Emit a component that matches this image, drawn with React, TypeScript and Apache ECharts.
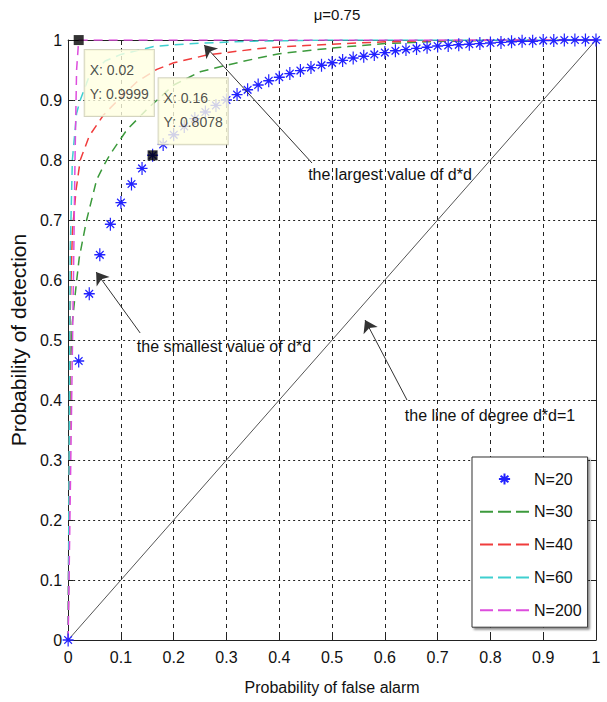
import React, { useEffect, useRef } from "react";
import * as echarts from "echarts";

// ---------- data ----------
const titleText = "μ=0.75";
const xName = "Probability of false alarm";
const yName = "Probability of detection";
const legendNames = ["N=20", "N=30", "N=40", "N=60", "N=200"];

const pfa20 = [0, 0.02, 0.04, 0.06, 0.08, 0.1, 0.12, 0.14, 0.16, 0.18, 0.2, 0.22, 0.24, 0.26, 0.28, 0.3, 0.32, 0.34, 0.36, 0.38, 0.4, 0.42, 0.44, 0.46, 0.48, 0.5, 0.52, 0.54, 0.56, 0.58, 0.6, 0.62, 0.64, 0.66, 0.68, 0.7, 0.72, 0.74, 0.76, 0.78, 0.8, 0.82, 0.84, 0.86, 0.88, 0.9, 0.92, 0.94, 0.96, 0.98, 1.0];
const pd20 = [0, 0.465, 0.577, 0.642, 0.693, 0.729, 0.76, 0.786, 0.8078, 0.826, 0.842, 0.856, 0.869, 0.88, 0.891, 0.9, 0.909, 0.917, 0.925, 0.932, 0.938, 0.944, 0.949, 0.954, 0.958, 0.962, 0.966, 0.97, 0.973, 0.976, 0.979, 0.982, 0.984, 0.986, 0.988, 0.99, 0.991, 0.992, 0.993, 0.994, 0.995, 0.996, 0.997, 0.998, 0.998, 0.999, 0.999, 1, 1, 1, 1];

const pfa30 = [0, 0.004, 0.008, 0.015, 0.021, 0.035, 0.054, 0.067, 0.08, 0.111, 0.15, 0.2, 0.25, 0.3, 0.36, 0.4, 0.46, 0.53, 0.6, 0.68, 0.8, 1.0];
const pd30 = [0, 0.45, 0.53, 0.59, 0.637, 0.7, 0.767, 0.79, 0.81, 0.85, 0.885, 0.925, 0.947, 0.958, 0.97, 0.977, 0.983, 0.989, 0.994, 0.997, 0.9995, 1];

const pfa40 = [0, 0.004, 0.008, 0.015, 0.023, 0.04, 0.067, 0.1, 0.13, 0.168, 0.2, 0.263, 0.3, 0.364, 0.45, 0.5, 0.6, 0.7, 0.8, 1.0];
const pd40 = [0, 0.55, 0.68, 0.75, 0.8, 0.84, 0.875, 0.905, 0.93, 0.951, 0.962, 0.975, 0.979, 0.986, 0.991, 0.993, 0.997, 0.999, 1, 1];

const pfa60 = [0, 0.004, 0.008, 0.016, 0.023, 0.04, 0.07, 0.1, 0.162, 0.2, 0.256, 0.35, 0.5, 1.0];
const pd60 = [0, 0.65, 0.8, 0.878, 0.9, 0.94, 0.965, 0.976, 0.989, 0.992, 0.995, 0.998, 1, 1];

const pfa200 = [0, 0.005, 0.01, 0.013, 0.016, 0.02, 1.0];
const pd200 = [0, 0.3, 0.6, 0.8, 0.95, 0.9999, 1];

const refX = [0, 1];
const refY = [0, 1];

const tipX = [0.02, 0.16];
const tipY = [0.9999, 0.8078];

const annoTexts = ["the largest value of d*d", "the smallest value of d*d", "the line of degree d*d=1"];
// arrows: [tailX, tailY, tipX, tipY] in data units
const arrow1 = [0.462, 0.795, 0.2576, 0.9917];
const arrow2 = [0.1364, 0.5117, 0.053, 0.6133];
const arrow3 = [0.642, 0.4, 0.5625, 0.5333];

const colors = ["#2222ff", "#3c9a3c", "#f03c3c", "#3fcfcf", "#dd4ddd"];

const FONT = "'Liberation Sans', Arial, sans-serif";
const STAR = "path://M5,0L5,12M0,6L10,6M1.5,2.5L8.5,9.5M1.5,9.5L8.5,2.5";
const DASH_ICON =
  "path://M0,0h0.01v0.01h-0.01z M0,6h13v2h-13z M18,6h13v2h-13z M36,6h13v2h-13z M48.99,13.99h0.01v0.01h-0.01z";

function zip(xs: number[], ys: number[]) {
  return xs.map((x, i) => [x, ys[i]]);
}

export default function App() {
  const ref = useRef<HTMLDivElement>(null);
  useEffect(() => {
    if (!ref.current) return;
    const chart = echarts.init(ref.current, undefined, { renderer: "svg" });
    const dashed = (name: string, xs: number[], ys: number[], color: string) => ({
      type: "line",
      name,
      data: zip(xs, ys),
      symbol: "none",
      showSymbol: false,
      lineStyle: { color, width: 1.5, type: [9, 6] },
      itemStyle: { color },
      z: 3,
    });
    const axisCommon = {
      type: "value",
      min: 0,
      max: 1,
      interval: 0.1,
    };
    const option: any = {
      animation: false,
      backgroundColor: "#ffffff",
      textStyle: { fontFamily: FONT },
      title: {
        text: titleText,
        left: 332,
        top: 2,
        textAlign: "center",
        textStyle: { fontSize: 15, fontWeight: "normal", color: "#111", fontFamily: FONT },
      },
      grid: { left: 68, top: 40, width: 528, height: 600 },
      xAxis: [
        {
          ...axisCommon,
          position: "bottom",
          axisLine: { show: true, onZero: false, lineStyle: { color: "#222", width: 1 } },
          axisTick: { show: true, inside: true, length: 5, lineStyle: { color: "#222" } },
          axisLabel: { fontSize: 16, color: "#111", margin: 9, fontFamily: FONT },
          splitLine: { show: true, lineStyle: { type: [4, 4], color: "#222", width: 1 } },
          name: xName,
          nameLocation: "middle",
          nameGap: 39,
          nameTextStyle: { fontSize: 16, color: "#111", fontFamily: FONT },
        },
        {
          ...axisCommon,
          position: "top",
          axisLine: { show: true, onZero: false, lineStyle: { color: "#222", width: 1 } },
          axisTick: { show: true, inside: true, length: 5, lineStyle: { color: "#222" } },
          axisLabel: { show: false },
          splitLine: { show: false },
        },
      ],
      yAxis: [
        {
          ...axisCommon,
          position: "left",
          axisLine: { show: true, onZero: false, lineStyle: { color: "#222", width: 1 } },
          axisTick: { show: true, inside: true, length: 5, lineStyle: { color: "#222" } },
          axisLabel: { fontSize: 16, color: "#111", margin: 6, fontFamily: FONT },
          splitLine: { show: true, lineStyle: { type: [2, 3], color: "#222", width: 1 } },
          name: yName,
          nameLocation: "middle",
          nameGap: 36,
          nameTextStyle: { fontSize: 21, color: "#111", fontFamily: FONT },
        },
        {
          ...axisCommon,
          position: "right",
          axisLine: { show: true, onZero: false, lineStyle: { color: "#222", width: 1 } },
          axisTick: { show: true, inside: true, length: 5, lineStyle: { color: "#222" } },
          axisLabel: { show: false },
          splitLine: { show: false },
        },
      ],
      legend: {
        data: [
          { name: legendNames[0] },
          { name: legendNames[1], icon: DASH_ICON },
          { name: legendNames[2], icon: DASH_ICON },
          { name: legendNames[3], icon: DASH_ICON },
          { name: legendNames[4], icon: DASH_ICON },
        ],
        orient: "vertical",
        left: 472,
        top: 457,
        itemWidth: 49,
        itemHeight: 14,
        itemGap: 16.8,
        padding: [14, 6, 9, 8],
        backgroundColor: "#ffffff",
        borderColor: "#333",
        borderWidth: 1,
        shadowColor: "rgba(0,0,0,0.45)",
        shadowBlur: 2,
        shadowOffsetX: 2,
        shadowOffsetY: 2,
        textStyle: { fontSize: 16, color: "#111", fontFamily: FONT },
        selectedMode: false,
      },
      graphic: [
        {
          type: "text",
          x: 390,
          y: 174,
          z: 20,
          style: { text: annoTexts[0], font: `16px ${FONT}`, fill: "#111", align: "center", verticalAlign: "middle" },
        },
        {
          type: "text",
          x: 224,
          y: 346,
          z: 20,
          style: { text: annoTexts[1], font: `16px ${FONT}`, fill: "#111", align: "center", verticalAlign: "middle" },
        },
        {
          type: "text",
          x: 490,
          y: 415,
          z: 20,
          style: { text: annoTexts[2], font: `16px ${FONT}`, fill: "#111", align: "center", verticalAlign: "middle" },
        },
      ],
      series: [
        {
          type: "line",
          name: "ref",
          data: zip(refX, refY),
          symbol: "none",
          lineStyle: { color: "#555", width: 1 },
          z: 2,
          markLine: {
            silent: true,
            symbol: ["none", "arrow"],
            symbolSize: 12,
            label: { show: false },
            lineStyle: { color: "#333", width: 1, type: "solid" },
            emphasis: { disabled: true },
            data: [arrow1, arrow2, arrow3].map((a) => [
              { coord: [a[0], a[1]] },
              { coord: [a[2], a[3]] },
            ]),
          },
        },
        {
          type: "line",
          name: legendNames[0],
          data: zip(pfa20, pd20),
          symbol: STAR,
          symbolSize: [11, 13],
          showSymbol: true,
          lineStyle: { width: 0, opacity: 0 },
          itemStyle: { color: "rgba(0,0,0,0)", borderColor: colors[0], borderWidth: 1.3 },
          z: 4,
        },
        dashed(legendNames[1], pfa30, pd30, colors[1]),
        dashed(legendNames[2], pfa40, pd40, colors[2]),
        dashed(legendNames[3], pfa60, pd60, colors[3]),
        dashed(legendNames[4], pfa200, pd200, colors[4]),
        {
          type: "scatter",
          name: "tips",
          data: [
            { value: [tipX[0], tipY[0]], label: { position: [11, 15] } },
            { value: [tipX[1], tipY[1]], label: { position: [11, -72] } },
          ],
          symbol: "rect",
          symbolSize: 10,
          itemStyle: { color: "#000" },
          z: 10,
          label: {
            show: true,
            formatter: (p: any) => `X: ${p.value[0]}\nY: ${p.value[1]}`,
            backgroundColor: "#ffffe1",
            borderColor: "#c9c9b0",
            borderWidth: 1,
            padding: [8, 5, 10, 5],
            lineHeight: 24,
            fontSize: 14,
            color: "#222",
            fontFamily: FONT,
            align: "left",
            verticalAlign: "top",
          },
        },
      ],
    };
    chart.setOption(option);
    return () => chart.dispose();
  }, []);
  return (
    <div
      ref={ref}
      style={{ position: "absolute", left: 0, top: 0, width: 607, height: 702, background: "#fff" }}
    />
  );
}
